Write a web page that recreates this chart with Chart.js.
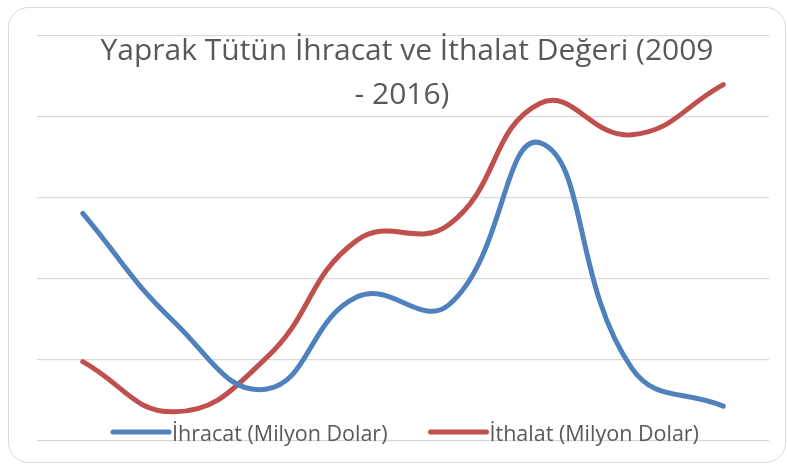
<!DOCTYPE html>
<html>
<head>
<meta charset="utf-8">
<script src="https://cdn.jsdelivr.net/npm/chart.js@4/dist/chart.umd.min.js"></script>
<style>
  html, body { margin: 0; padding: 0; background: #ffffff; }
  #wrap { position: relative; width: 787px; height: 467px; }
</style>
</head>
<body>
<div id="wrap"><canvas id="c" width="787" height="467"></canvas></div>
<script>
// Years 2009 - 2016
const years = ['2009', '2010', '2011', '2012', '2013', '2014', '2015', '2016'];
// Export and import values
const ihracat = [2.81, 1.47, 0.64, 1.78, 1.68, 3.68, 0.90, 0.43];
const ithalat = [0.98, 0.36, 1.02, 2.48, 2.67, 4.17, 3.78, 4.40];
const seriesLabels = ['İhracat (Milyon Dolar)', 'İthalat (Milyon Dolar)'];
const titleLines = ['Yaprak Tütün İhracat ve İthalat Değeri (2009', '- 2016)'];

const FONT = '"Open Sans", "Noto Sans", sans-serif';

// Rounded frame around the whole chart
const framePlugin = {
  id: 'frame',
  beforeDraw(chart) {
    const ctx = chart.ctx;
    ctx.save();
    ctx.fillStyle = '#ffffff';
    ctx.fillRect(0, 0, chart.width, chart.height);
    ctx.beginPath();
    ctx.roundRect(8.5, 7.5, 777, 455, 20);
    ctx.strokeStyle = '#d9d9d9';
    ctx.lineWidth = 1;
    ctx.stroke();
    ctx.restore();
  }
};

// Title and legend drawn on top of the plot area
const overlayPlugin = {
  id: 'overlay',
  afterDraw(chart) {
    const ctx = chart.ctx;
    ctx.save();
    ctx.fillStyle = '#595959';
    ctx.textAlign = 'center';
    ctx.textBaseline = 'alphabetic';
    ctx.font = '30px ' + FONT;
    ctx.fillText(titleLines[0], 407, 60);
    ctx.fillText(titleLines[1], 402, 104);

    // legend
    ctx.font = '21.5px ' + FONT;
    ctx.textAlign = 'left';
    const sample = 56, gapText = 3, gapItem = 43;
    const items = chart.data.datasets.map(ds => ({
      label: ds.label, color: ds.borderColor,
      w: sample + gapText + ctx.measureText(ds.label).width
    }));
    const total = items.reduce((s, it) => s + it.w, 0) + gapItem * (items.length - 1);
    let x = 406 - total / 2;
    const ly = 432;
    items.forEach(it => {
      ctx.beginPath();
      ctx.moveTo(x, ly);
      ctx.lineTo(x + sample, ly);
      ctx.strokeStyle = it.color;
      ctx.lineWidth = 5;
      ctx.lineCap = 'round';
      ctx.stroke();
      ctx.fillStyle = '#595959';
      ctx.fillText(it.label, x + sample + gapText, 441);
      x += it.w + gapItem;
    });
    ctx.restore();
  }
};

new Chart(document.getElementById('c'), {
  type: 'line',
  data: {
    labels: years,
    datasets: [
      { label: seriesLabels[0], data: ihracat, borderColor: '#4f81bd', borderWidth: 5,
        pointRadius: 0, tension: 0.45, fill: false, borderCapStyle: 'round' },
      { label: seriesLabels[1], data: ithalat, borderColor: '#c0504d', borderWidth: 5,
        pointRadius: 0, tension: 0.45, fill: false, borderCapStyle: 'round' }
    ]
  },
  options: {
    responsive: false,
    animation: false,
    layout: { padding: { left: 37, right: 18, top: 36, bottom: 26 } },
    plugins: { legend: { display: false }, title: { display: false }, tooltip: { enabled: false } },
    scales: {
      x: { type: 'category', offset: true, display: false },
      y: {
        min: 0, max: 5,
        ticks: { display: false, stepSize: 1 },
        grid: { color: '#d9d9d9', lineWidth: 1.3, drawTicks: false },
        border: { display: false }
      }
    }
  },
  plugins: [framePlugin, overlayPlugin]
});
</script>
</body>
</html>
